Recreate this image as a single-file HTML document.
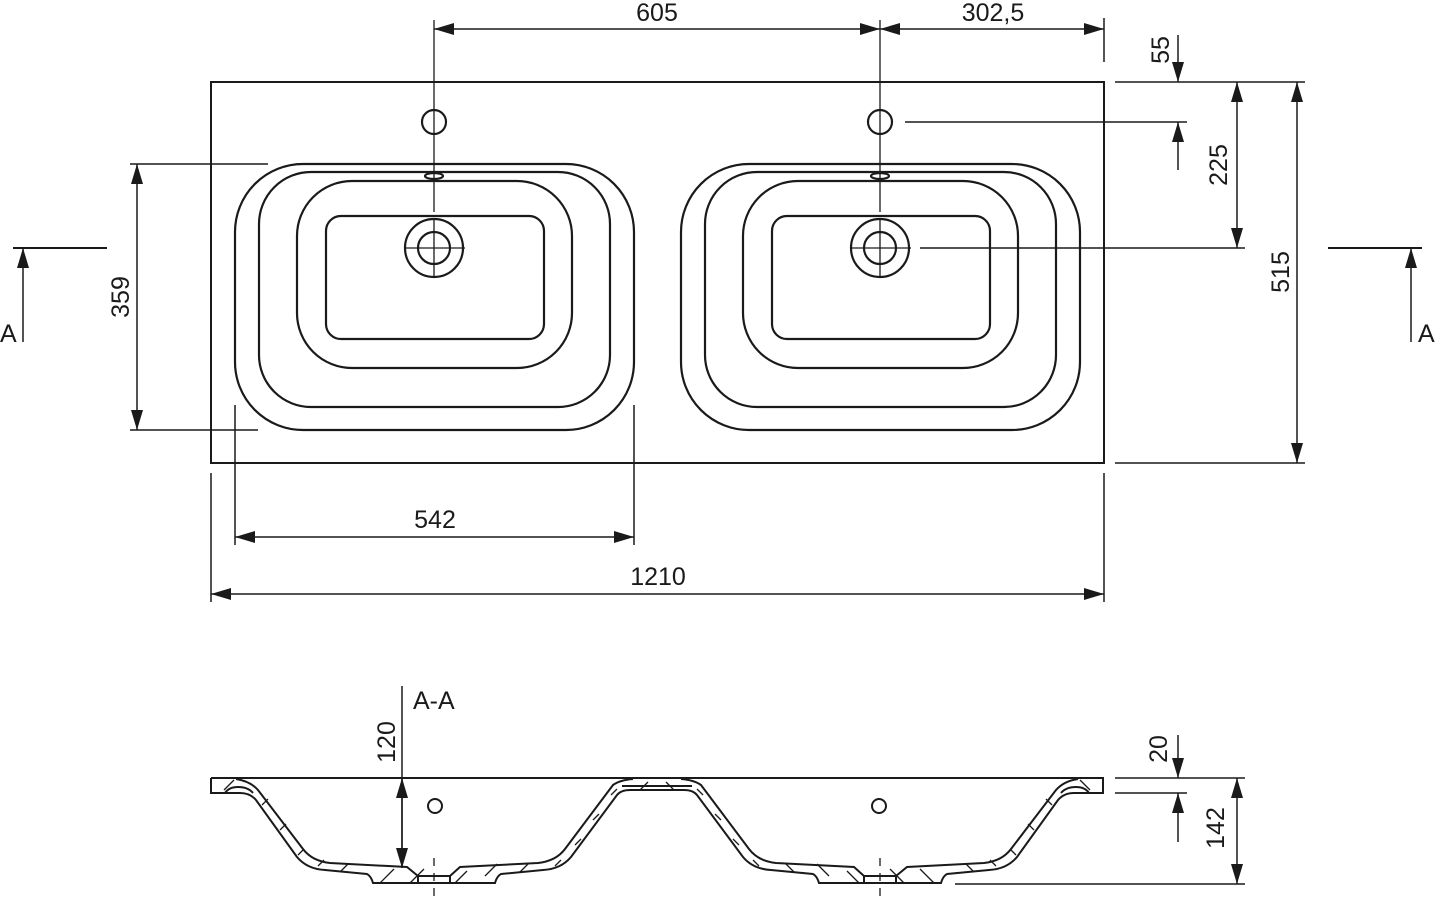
<!DOCTYPE html>
<html><head><meta charset="utf-8"><style>
html,body{margin:0;padding:0;background:#fff;}
svg{display:block}
text{font-family:"Liberation Sans",sans-serif;font-size:25px;fill:#1a1a1a;}
</style></head><body>
<svg width="1436" height="899" viewBox="0 0 1436 899" xmlns="http://www.w3.org/2000/svg">
<defs>
<marker id="a" viewBox="0 0 20 12" refX="20" refY="6" markerWidth="20" markerHeight="12" markerUnits="userSpaceOnUse" orient="auto-start-reverse"><path d="M0,0 L20,6 L0,12 Z" fill="#1a1a1a"/></marker>
</defs>
<g stroke="#1a1a1a" stroke-width="1.5" fill="none">
<!-- top view -->
<rect x="211" y="82" width="893" height="381" stroke-width="2"/>
<g id="basin" stroke-width="2.2">
<rect x="235" y="164" width="399" height="266" rx="68"/>
<rect x="259" y="172" width="351" height="235" rx="52"/>
<rect x="297" y="181" width="275" height="187" rx="55"/>
<rect x="326" y="216" width="218" height="123" rx="15"/>
<circle cx="434" cy="248" r="29"/>
<circle cx="434" cy="248" r="16"/>
<ellipse cx="434" cy="176" rx="9" ry="3"/>
<circle cx="434" cy="122" r="12"/>
</g>
<use href="#basin" transform="translate(446,0)"/>
<!-- center lines -->
<path d="M434,20V212M434,218V278M404,248H465M880,20V212M880,218V278M850,248H911" stroke-width="1.3"/>
<!-- 605 / 302,5 -->
<path d="M1104,18V62"/>
<path d="M434,29H880" marker-start="url(#a)" marker-end="url(#a)"/>
<path d="M880,29H1104" marker-start="url(#a)" marker-end="url(#a)"/>
<!-- right dims -->
<path d="M1115,82H1305M905,122H1187M920,248H1245M1115,463H1305"/>
<path d="M1178,35V82" marker-end="url(#a)"/>
<path d="M1178,170V122" marker-end="url(#a)"/>
<path d="M1237,82V248" marker-start="url(#a)" marker-end="url(#a)"/>
<path d="M1297,82V463" marker-start="url(#a)" marker-end="url(#a)"/>
<!-- 359 -->
<path d="M130,164H268M130,430H258"/>
<path d="M137,164V430" marker-start="url(#a)" marker-end="url(#a)"/>
<!-- A markers -->
<path d="M13,248H107M1328,248H1422" stroke-width="2"/>
<path d="M23,342V248" marker-end="url(#a)"/>
<path d="M1411,342V248" marker-end="url(#a)"/>
<!-- 542 / 1210 -->
<path d="M235,405V545M634,405V545M211,473V602M1104,473V602"/>
<path d="M235,537H634" marker-start="url(#a)" marker-end="url(#a)"/>
<path d="M211,594H1104" marker-start="url(#a)" marker-end="url(#a)"/>

<!-- section -->
<g id="sec" stroke-width="2">
<path d="M211,778 L211,793 L240,793 Q250,793 256,800 L297,857 Q307,869 325,870 L367,874 Q371,876 373,883 L495,883 Q497,876 501,874 L543,870 Q561,869 571,857 L617,795 Q621,790 630,790 L657,790"/>
<path d="M236,779 Q250,781 258,790 L303,849 Q312,861 330,863 L407,867 L418,876 L450,876 L460,867 L538,863 Q556,861 565,849 L613,785 Q620,780 633,779"/>
<path d="M225,793 Q229,787 238,787 Q248,787 253,793"/>
<path d="M622,786 H657"/>
<path d="M418,876V883M450,876V883"/>
<circle cx="435" cy="806" r="7"/>
<path d="M224,790l10,-10M262,805l6,-6M280,830l6,-6M298,855l6,-6M318,866l6,-6M340,872l8,-8M380,883l14,-14M410,883l14,-14M455,883l12,-12M485,876l12,-12M520,872l8,-8M555,866l6,-6M575,845l6,-6M593,820l6,-6M611,795l6,-6M640,790l8,-8" stroke-width="1.3"/>
</g>
<use href="#sec" transform="translate(1314,0) scale(-1,1)"/>
<path d="M211,778H1104" stroke-width="2"/>
<path d="M434,858V899M880,858V899" stroke-dasharray="8,7" stroke-width="1.3"/>
<!-- 120 -->
<path d="M402,686V778"/>
<path d="M402,868V778" marker-end="url(#a)"/>
<path d="M402,778V868" marker-end="url(#a)"/>
<!-- 20 / 142 -->
<path d="M1115,778H1245M1115,793H1187M955,884H1245"/>
<path d="M1178,735V778" marker-end="url(#a)"/>
<path d="M1178,842V793" marker-end="url(#a)"/>
<path d="M1237,778V884" marker-start="url(#a)" marker-end="url(#a)"/>
</g>
<text x="657" y="21" text-anchor="middle">605</text>
<text x="993" y="21" text-anchor="middle">302,5</text>
<text x="435" y="528" text-anchor="middle">542</text>
<text x="658" y="585" text-anchor="middle">1210</text>
<text x="0" y="342">A</text>
<text x="1418" y="342">A</text>
<text x="413" y="709">A-A</text>
<text transform="translate(1169,50) rotate(-90)" text-anchor="middle">55</text>
<text transform="translate(1227,165) rotate(-90)" text-anchor="middle">225</text>
<text transform="translate(1289,272) rotate(-90)" text-anchor="middle">515</text>
<text transform="translate(129,297) rotate(-90)" text-anchor="middle">359</text>
<text transform="translate(395,742) rotate(-90)" text-anchor="middle">120</text>
<text transform="translate(1167,749) rotate(-90)" text-anchor="middle">20</text>
<text transform="translate(1224,828) rotate(-90)" text-anchor="middle">142</text>
</svg>
</body></html>
